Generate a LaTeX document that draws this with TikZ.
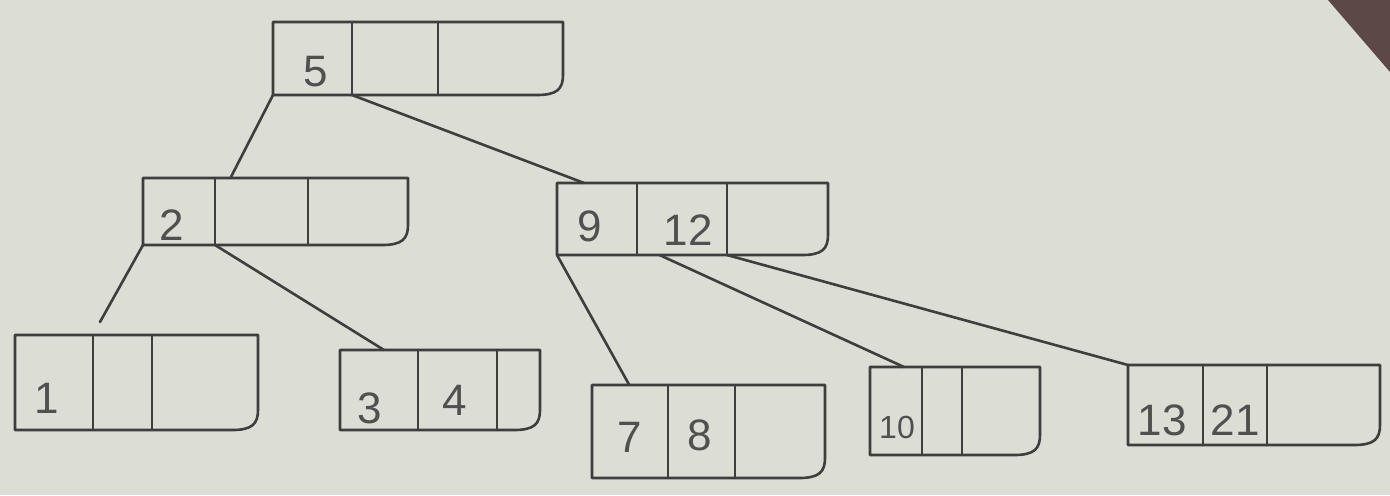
\documentclass[tikz,border=0pt]{standalone}
\usepackage{fontspec}
\setmainfont{Liberation Sans}
\usetikzlibrary{fit,calc}
\definecolor{paper}{RGB}{220,221,213}
\definecolor{pencilc}{RGB}{62,62,62}
\definecolor{digitc}{RGB}{80,80,80}
\definecolor{cornerc}{RGB}{92,72,70}
\newcommand{\btbox}[7]{%
  \node[bt, fit={(#2,#3) (#4,#5)}] (#1) {};
  \draw[pencil] (#1.north west) -- (#1.north east) -- ([yshift=10pt]#1.south east)
    .. controls ([yshift=3pt]#1.south east) and ([xshift=-3pt]#1.south east) .. ([xshift=-13pt]#1.south east)
    -- (#1.south west) -- cycle;
  \coordinate (#1-d1) at (#6,#5);
  \coordinate (#1-d2) at (#7,#5);
  \draw[pencil] (#6,#3) -- (#1-d1);
  \draw[pencil] (#7,#3) -- (#1-d2);
}
\begin{document}
\begin{tikzpicture}[x=0.5pt,y=-0.5pt,
  pencil/.style={draw=pencilc, line width=1.3pt, line cap=round, line join=round},
  bt/.style={inner sep=0pt, outer sep=0pt},
  digit/.style={text=digitc, inner sep=0pt, font=\fontsize{22}{22}\selectfont},
  smalldigit/.style={digit, font=\fontsize{16}{16}\selectfont}]
\fill[paper] (0,0) rectangle (1390,495);
\useasboundingbox (0,0) rectangle (1390,495);
\fill[cornerc] (1328,0) -- (1390,0) -- (1390,72) -- cycle;

% boxes
\btbox{R}{273}{22}{563}{95}{352}{438}
\btbox{A}{143}{178}{408}{245}{215}{308}
\btbox{B}{557}{183}{828}{255}{637}{727}
\btbox{L1}{15}{335}{258}{430}{93}{152}
\btbox{L2}{340}{350}{540}{430}{418}{497}
\btbox{L3}{592}{385}{825}{478}{668}{735}
\btbox{L4}{870}{367}{1040}{455}{922}{962}
\btbox{L5}{1128}{365}{1380}{445}{1203}{1267}

% keys
\node[digit] (k5) at (316,72) {5};
\node[digit] (k2) at (172,225) {2};
\node[digit] (k9) at (590,226) {9};
\node[digit] (k12) at (688,230) {12};
\node[digit] (k1) at (47,398) {1};
\node[digit] (k3) at (370,408) {3};
\node[digit] (k4) at (455,400) {4};
\node[digit] (k7) at (630,437) {7};
\node[digit] (k8) at (700,435) {8};
\node[smalldigit] (k10) at (897,427) {10};
\node[digit] (k13) at (1162,420) {13};
\node[digit] (k21) at (1235,420) {21};

% connectors
\coordinate (free) at (100,322);
\draw[pencil] (R.south west) -- ($(A.north west)!0.33!(A.north east)$);
\draw[pencil] (R-d1) -- ($(B.north west)!0.1!(B.north east)$);
\draw[pencil] (A.south west) -- (free);
\draw[pencil] (A-d1) -- ($(L2.north west)!0.22!(L2.north east)$);
\draw[pencil] (B.south west) -- ($(L3.north west)!0.16!(L3.north east)$);
\draw[pencil] ($(B-d1)!0.25!(B-d2)$) -- ($(L4.north west)!0.2!(L4.north east)$);
\draw[pencil] (B-d2) -- (L5.north west);
\end{tikzpicture}
\end{document}
